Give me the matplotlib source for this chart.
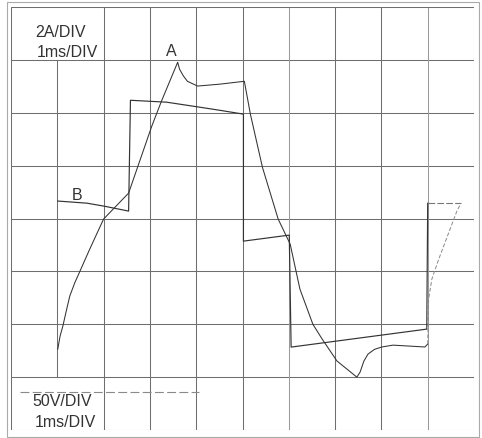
import matplotlib
matplotlib.use("Agg")
import matplotlib.pyplot as plt
from matplotlib.patches import Rectangle
from matplotlib import font_manager

# ---- data ----
# Trace A: current, 2 A/div, time 1 ms/div
a_time = [1.01, 1.06, 1.12, 1.20, 1.27, 1.38, 1.49, 1.70, 2.00, 2.54, 3.04, 3.25, 3.60, 3.64,
          3.72, 3.81, 4.03, 4.50, 5.04, 5.17, 5.43, 5.77, 6.03, 6.24, 6.52, 6.72, 7.04, 7.47,
          7.54, 7.62, 7.71, 7.85, 8.01, 8.25, 8.94, 9.00]
a_current = [-4.94, -4.45, -4.07, -3.45, -2.93, -2.42, -1.99, -1.16, -0.02, 0.96, 3.49, 4.44,
             5.91, 5.65, 5.40, 5.19, 5.01, 5.08, 5.19, 3.95, 1.94, -0.02, -0.97, -2.67, -4.00,
             -4.56, -5.39, -6.00, -5.81, -5.40, -5.13, -4.95, -4.86, -4.79, -4.86, -4.75]
# faint tail of trace A
a_tail_time = [9.00, 9.02, 9.09, 9.24, 9.63, 9.71]
a_tail_current = [-4.75, -3.05, -2.29, -1.53, 0.28, 0.55]

# Trace B: voltage, 50 V/div, time 1 ms/div
b_time = [1.01, 1.64, 2.02, 2.54, 2.58, 3.36, 4.07, 4.50, 5.02, 5.02, 6.01, 6.05, 8.98, 9.00]
b_voltage = [16.5, 14.5, 11.6, 7.0, 111.8, 110.0, 105.3, 102.4, 98.7, -21.4, -15.7, -121.6, -104.6, 14.5]
b_tail_time = [9.00, 9.71]
b_tail_voltage = [14.5, 14.5]

label_a = "A"
label_b = "B"
scale_top = ["2A/DIV", "1ms/DIV"]
scale_bottom = ["50V/DIV", "1ms/DIV"]

# ---- font ----
avail = {f.name for f in font_manager.fontManager.ttflist}
fam = "Liberation Sans Narrow" if "Liberation Sans Narrow" in avail else "Liberation Sans"
fs = 13 if fam == "Liberation Sans Narrow" else 11.5

W, H = 482, 439
fig = plt.figure(figsize=(W / 100, H / 100), dpi=100)
x0, x1, y0, y1 = 11, 474, 8, 431
ax = fig.add_axes([x0 / W, 1 - y1 / H, (x1 - x0) / W, (y1 - y0) / H])
ax.set_xlim(0, 10)
ax.set_ylim(-8, 8)
ax2 = ax.twinx()
ax2.set_ylim(-200, 200)
for a in (ax, ax2):
    a.set_xticks([])
    a.set_yticks([])
    for s in a.spines.values():
        s.set_visible(False)

gc = "#6e6e6e"
glw = 0.75
# grid
for yv in range(-6, 7, 2):
    ax.axhline(yv, color=gc, lw=glw, zorder=1)
for xv in range(2, 10):
    col = "#9a9a9a" if xv in (6, 9) else gc
    ax.axvline(xv, color=col, lw=glw, zorder=1)
ax.axvline(1, ymin=1 / 8, ymax=7 / 8, color=gc, lw=glw, zorder=1)
# inner frame
ax.add_patch(Rectangle((0, 0), 1, 1, transform=ax.transAxes, fill=False,
                       ec=gc, lw=glw, zorder=1))
ax.plot([0.019, 0.407], [0.090, 0.090], transform=ax.transAxes,
        color="#8a8a8a", lw=0.8, ls=(0, (8, 3)), zorder=1)
# outer frame
fig.add_artist(Rectangle((7 / W, 1 - 438 / H), (479 - 7) / W, (438 - 3) / H,
                         transform=fig.transFigure, fill=False, ec="#aaaaaa", lw=0.8))

# traces
tc = "#333333"
ax.plot(a_time, a_current, color=tc, lw=0.75, zorder=3)
ax.plot(a_tail_time, a_tail_current, color="#888888", lw=0.7, ls=(0, (4, 2)), zorder=3)
ax2.plot(b_time, b_voltage, color=tc, lw=0.85, zorder=3)
ax2.plot(b_tail_time, b_tail_voltage, color="#777777", lw=0.8, ls=(0, (6, 2)), zorder=3)

# labels
tcol = "#333333"
ax.text(0.052, 0.943, scale_top[0], transform=ax.transAxes, family=fam, fontsize=fs,
        color=tcol, va="center", ha="left")
ax.text(0.056, 0.894, scale_top[1], transform=ax.transAxes, family=fam, fontsize=fs,
        color=tcol, va="center", ha="left")
ax.text(0.047, 0.069, scale_bottom[0], transform=ax.transAxes, family=fam, fontsize=fs,
        color=tcol, va="center", ha="left")
ax.text(0.052, 0.021, scale_bottom[1], transform=ax.transAxes, family=fam, fontsize=fs,
        color=tcol, va="center", ha="left")
ax.text(0.347, 0.898, label_a, transform=ax.transAxes, family=fam, fontsize=fs,
        color=tcol, va="center", ha="center")
ax.text(0.142, 0.556, label_b, transform=ax.transAxes, family=fam, fontsize=fs,
        color=tcol, va="center", ha="center")

fig.savefig("out.png", dpi=100, facecolor="white")
